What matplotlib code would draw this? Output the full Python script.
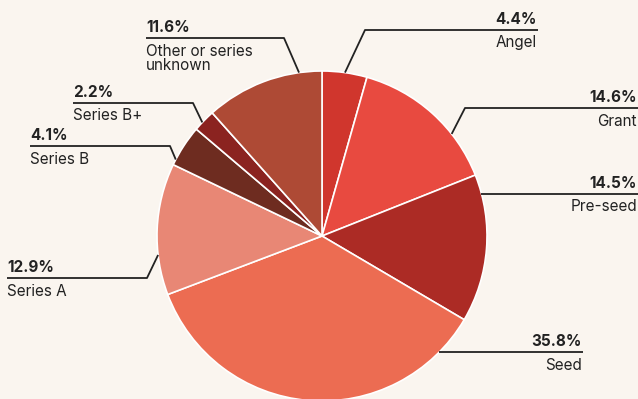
import numpy as np
import matplotlib.pyplot as plt

plt.rcParams['font.family'] = ['Inter', 'DejaVu Sans']

# Funding stage shares (%)
stages = ['Angel', 'Grant', 'Pre-seed', 'Seed', 'Series A', 'Series B',
          'Series B+', 'Other or series\nunknown']
shares = [4.4, 14.6, 14.5, 35.8, 12.9, 4.1, 2.2, 11.6]
colors = ['#D0362D', '#E84A40', '#AC2B25', '#EC6C52', '#E88775', '#6E2C20',
          '#8B2320', '#AE4A35']

W, H = 638, 399
bg = '#FAF5EF'
ink = '#222222'

# pie geometry in pixels (y measured from top)
cx, cy, R = 322, 236, 165

# label layout: text x, guide line y, elbow x, anchor angle on rim, side
layout = {
    'Angel':    (537, 30, 365, 82.0, 'right'),
    'Grant':    (637, 108, 465, 38.2, 'right'),
    'Pre-seed': (637, 193.5, None, 14.9, 'right'),
    'Seed':     (582, 352, None, -44.7, 'right'),
    'Series A': (7, 278, 147, 186.6, 'left'),
    'Series B': (30, 146, 170, 152.4, 'left'),
    'Series B+': (73, 103, 193, 136.5, 'left'),
    'Other or series\nunknown': (146, 38, 284, 98.0, 'left'),
}

fig = plt.figure(figsize=(W / 100, H / 100), dpi=100, facecolor=bg)
ax = fig.add_axes([0, 0, 1, 1])
ax.set_facecolor(bg)

ax.pie(shares, colors=colors, startangle=90, counterclock=False,
       center=(cx, H - cy), radius=R,
       wedgeprops=dict(edgecolor='white', linewidth=1.2))

for name, val in zip(stages, shares):
    tx, ly, ex, ang, side = layout[name]
    a = np.deg2rad(ang)
    px = cx + R * np.cos(a)
    py = cy - R * np.sin(a)
    if ex is None:
        # straight horizontal guide from the rim
        ex, py = px, ly
    xs = [px, ex, tx + 1 if side == 'right' else tx]
    ys = [py, ly, ly]
    ax.plot(xs, [H - y for y in ys], color=ink, lw=1.3,
            solid_capstyle='butt', zorder=3)
    ax.text(tx, H - ly + 3, f'{val}%', ha=side, va='bottom',
            fontsize=11, fontweight='bold', color=ink)
    ax.text(tx, H - ly - 5.5, name, ha=side, va='top',
            fontsize=11, color=ink, linespacing=1.0)

ax.set_xlim(0, W)
ax.set_ylim(0, H)
ax.set_aspect('equal')
ax.axis('off')

fig.savefig('out.png', dpi=100, facecolor=bg)
